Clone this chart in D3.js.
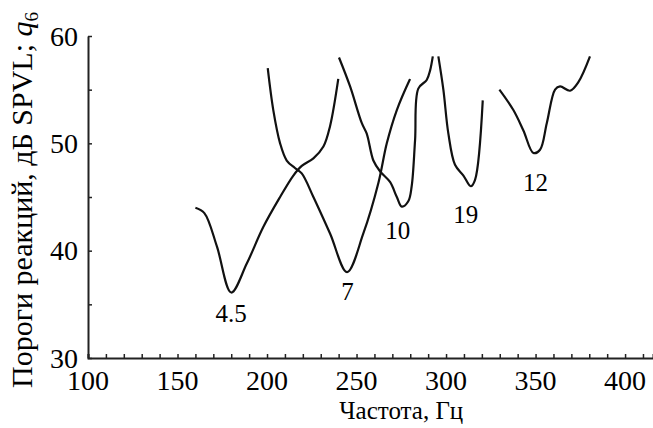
<html>
  <head>
    <script src="https://cdn.jsdelivr.net/npm/d3@7"></script>
    <style>
      body { margin: 0; background: #fff; }
      svg { font-family: "Liberation Serif", "Times New Roman", serif; }
    </style>
  </head>

  <body>
    <div id="chart"></div>
  </body>

  <script>
    // threshold curves, frequency (Hz) vs threshold (dB SPVL)
    const curve45 = [[160, 44.0], [165, 43.5], [172, 40.4], [180, 36.1], [188.7, 38.8], [197.9, 42.2],
      [207.3, 45.0], [214.7, 47.0], [219.4, 47.9], [225.9, 48.6], [231.5, 49.7], [235.2, 51.6], [239.8, 56.0]]
    const curve7 = [[200.4, 57.0], [203.5, 53.1], [207.3, 50.0], [211, 48.4], [215.6, 47.7], [219.4, 47.2],
      [225.9, 45.0], [235.2, 41.6], [244.7, 38.0], [253.8, 41.6], [262.2, 46.3], [266.9, 50.0], [272.5, 53.1], [279.9, 56.0]]
    const curve10 = [[240.2, 58.0], [246.4, 55.3], [252.9, 51.9], [255.7, 50.9], [259.4, 48.4], [263.1, 47.4],
      [268.7, 46.4], [272.5, 45.0], [275.3, 44.1], [278.9, 44.6], [280.8, 46.0], [282.7, 50.3], [284.5, 55.1],
      [289.2, 55.9], [291.1, 56.8], [292.6, 58.1]]
    const curve19 = [[295.7, 58.1], [298.5, 55.0], [301.3, 50.9], [305, 48.0], [309.7, 47.0], [313.8, 46.0],
      [316.2, 46.6], [320.5, 54.0]]
    const curve12 = [[329.8, 55.0], [337.6, 53.1], [343.2, 51.2], [348.8, 49.1], [352.5, 49.4], [356.3, 51.9],
      [360.9, 55.0], [363.7, 55.3], [369.3, 54.9], [373.9, 55.7], [380.4, 58.1]]

    // curve labels and where they sit
    const labels = [["4.5", 180, 33.4], ["7", 245, 35.4], ["10", 273, 41.1], ["19", 311, 42.6], ["12", 350, 45.6]]

    const xTicks = [100, 150, 200, 250, 300, 350, 400]
    const yTicks = [30, 40, 50, 60]

    let margin = {top: 36, right: 0, bottom: 70, left: 88},
        width = 653 - margin.left - margin.right,
        height = 428 - margin.top - margin.bottom

    let svg = d3.select("#chart")
      .append("svg")
      .attr("width", 653)
      .attr("height", 428)
      .append("g")
      .attr("transform", "translate(" + margin.left + "," + margin.top + ")")

    let x = d3.scaleLinear().domain([100, 415.6]).range([0, width])
    let y = d3.scaleLinear().domain([30, 60]).range([height, 0])

    // axes, ticks point inward
    let xAxis = svg.append("g")
      .attr("transform", "translate(0," + height + ")")
      .call(d3.axisBottom(x).tickValues(d3.range(100, 415, 10)).tickSize(-4).tickFormat(""))
    xAxis.select(".domain").attr("stroke", "#222").attr("stroke-width", 2)
    xAxis.selectAll(".tick line").attr("stroke", "#222").attr("stroke-width", 1.5)

    svg.append("g")
      .attr("transform", "translate(0," + height + ")")
      .selectAll("text")
      .data(xTicks)
      .enter().append("text")
      .attr("x", (d) => x(d))
      .attr("y", 32)
      .attr("text-anchor", "middle")
      .attr("font-size", 28)
      .text((d) => d)

    let yAxis = svg.append("g")
      .call(d3.axisLeft(y).tickValues(d3.range(30, 61, 5)).tickSize(-4).tickSizeOuter(0).tickFormat(""))
    yAxis.select(".domain").attr("stroke", "#222").attr("stroke-width", 2)
    yAxis.selectAll(".tick line").attr("stroke", "#222").attr("stroke-width", 1.5)

    svg.append("g")
      .selectAll("text")
      .data(yTicks)
      .enter().append("text")
      .attr("x", -10)
      .attr("y", (d) => y(d))
      .attr("dy", "0.34em")
      .attr("text-anchor", "end")
      .attr("font-size", 28)
      .text((d) => d)

    // axis titles
    svg.append("text")
      .attr("x", x(275))
      .attr("y", height + 61)
      .attr("text-anchor", "middle")
      .attr("font-size", 25)
      .text("Частота, Гц")

    let yTitle = svg.append("text")
      .attr("transform", "translate(" + (-margin.left + 32) + "," + (height / 2 + 3) + ") rotate(-90)")
      .attr("text-anchor", "middle")
      .attr("font-size", 30)
    yTitle.append("tspan").text("Пороги реакций, дБ SPVL; ")
    yTitle.append("tspan").attr("font-style", "italic").text("q")
    yTitle.append("tspan").attr("font-size", 19).attr("dy", 6).text("6")

    // the curves
    let line = d3.line()
      .x((d) => x(d[0]))
      .y((d) => y(d[1]))
      .curve(d3.curveCatmullRom.alpha(0.5))

    svg.append("g")
      .selectAll("path")
      .data([curve45, curve7, curve10, curve19, curve12])
      .enter().append("path")
      .attr("d", line)
      .attr("fill", "none")
      .attr("stroke", "#111")
      .attr("stroke-width", 2.2)

    svg.append("g")
      .selectAll("text")
      .data(labels)
      .enter().append("text")
      .attr("x", (d) => x(d[1]))
      .attr("y", (d) => y(d[2]))
      .attr("text-anchor", "middle")
      .attr("font-size", 25)
      .text((d) => d[0])
  </script>
</html>
